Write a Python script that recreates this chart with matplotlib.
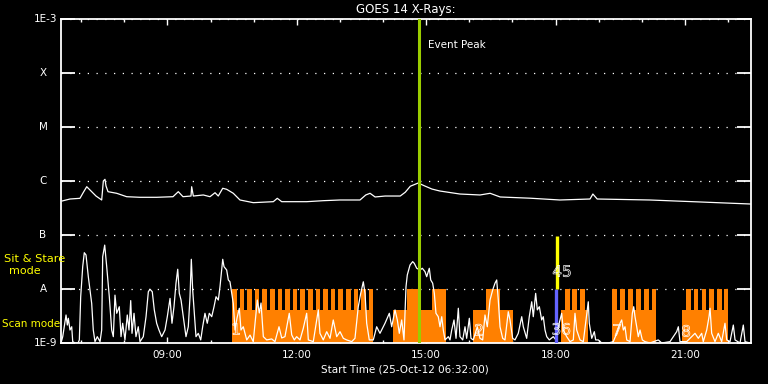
# GOES 14 X-ray light curves with the observing blocks drawn underneath, IDL-style black plot.
import numpy as np
import matplotlib.pyplot as plt
import matplotlib.patheffects as pe
from matplotlib.ticker import FixedLocator, NullLocator, FuncFormatter

START_H = 6 + 32 / 60   # 25-Oct-12 06:32:00
SPAN_H = 16

# 1-8 A channel: minutes after start, flux in 1e-6 W m^-2
hi_min = [1.4, 12.5, 26.4, 30.6, 35.8, 42.7, 48.7, 56.6, 58.9, 61.2,
          62.6, 65.4, 77.5, 91.4, 109.9, 133.1, 155.8, 163.2, 169.7, 180.9,
          181.8, 184.1, 198.0, 207.3, 214.3, 218.8, 225.0, 230.5, 239.7, 249.0,
          267.5, 295.4, 300.9, 307.1, 341.8, 364.9, 388.2, 416, 424, 430,
          437, 451, 472, 479, 486, 497, 506, 516, 527, 555,
          583, 597, 611, 653, 694, 736, 740, 746, 819, 889,
          959]
hi_uw = [0.426, 0.464, 0.478, 0.60, 0.784, 0.634, 0.527, 0.445, 1.0, 1.075,
         0.81, 0.634, 0.592, 0.512, 0.499, 0.499, 0.512, 0.634, 0.512, 0.527,
         0.784, 0.527, 0.551, 0.512, 0.607, 0.527, 0.733, 0.702, 0.592, 0.445,
         0.397, 0.414, 0.478, 0.414, 0.414, 0.432, 0.445, 0.445, 0.551, 0.592,
         0.506, 0.527, 0.527, 0.62, 0.80, 0.918, 0.81, 0.71, 0.653, 0.574,
         0.551, 0.592, 0.506, 0.48, 0.445, 0.464, 0.574, 0.464, 0.445, 0.409,
         0.375]

# 0.5-4 A channel: minutes after start, flux in 1e-9 W m^-2
lo_min = [0, 2.4, 7.0, 8.8, 10.2, 12.5, 14.9, 16.3, 19.5, 23.7,
          25.5, 27.4, 30.2, 32.4, 34.8, 38.0, 42.7, 44.9, 47.3, 50.5,
          54.3, 56.6, 58.0, 60.8, 63.6, 67.2, 70.5, 72.8, 75.1, 77.5,
          81.1, 83.5, 85.8, 89.0, 92.2, 94.6, 97.0, 98.8, 101.6, 104.3,
          107.5, 109.9, 114.5, 118.3, 121.5, 123.8, 127.0, 129.8, 133.1, 136.3,
          140.1, 144.7, 147.9, 151.7, 154.4, 157.2, 160.0, 162.4, 164.6, 167.0,
          170.2, 173.9, 177.1, 179.5, 181.3, 183.2, 185.5, 187.8, 191.0, 194.4,
          197.1, 200.3, 203.5, 206.3, 209.7, 212.9, 215.7, 218.9, 221.2, 225.0,
          226.8, 230.5, 232.8, 235.1, 239.7, 242.1, 244.9, 248.1, 250.4, 253.6,
          258.4, 263.0, 267.5, 273.1, 275.9, 278.3, 281.5, 286.2, 293.1, 297.7,
          303.3, 307.1, 311.6, 317.6, 321.0, 324.6, 327.9, 332.5, 337.1, 341.8,
          344.1, 351.0, 358.0, 360.3, 364.9, 369.7, 374.3, 378.8, 383.6, 388.2,
          392.8, 397.5, 404.5, 409.0, 413.6, 417.0, 420.6, 423.0, 425.3, 428.9,
          434.5, 439.2, 443.8, 450.8, 456.8, 460.1, 464.7, 467.9, 470.7, 474.0,
          477.2, 480.0, 481.8, 485.6, 489.3, 491.5, 494.9, 499.5, 502.7, 506.4,
          508.8, 512.4, 514.4, 517.1, 519.4, 521.7, 524.9, 527.3, 529.7, 531.9,
          534.3, 538.9, 541.2, 543.6, 546.8, 549.6, 552.8, 555.1, 558.9, 562.1,
          564.4, 568.1, 570.4, 573.6, 579.2, 582.9, 586.7, 589.9, 593.1, 596.9,
          600.6, 603.8, 606.2, 608.4, 610.8, 614.5, 617.7, 622.3, 624.7, 628.4,
          631.6, 636.2, 641.0, 643.2, 647.9, 651.5, 654.9, 657.1, 660.4, 662.7,
          665.5, 668.8, 671.0, 673.4, 675.8, 679.4, 684.9, 688.7, 691.9, 696.6,
          698.8, 703.6, 708.2, 712.8, 715.1, 717.5, 722.1, 726.7, 733.6, 735.0,
          738.4, 742.0, 743.9, 747.6, 752.3, 761.5, 768.4, 773.2, 777.8, 780.1,
          782.4, 784.7, 787.1, 791.7, 794.9, 796.8, 798.6, 801.0, 803.2, 805.6,
          808.8, 812.5, 819.5, 831.0, 835.8, 847.3, 856.6, 858.9, 861.2, 870.5,
          882.1, 886.7, 891.4, 893.6, 898.4, 901.6, 903.0, 905.3, 909.9, 914.5,
          919.2, 923.8, 926.2, 930.8, 935.4, 937.8, 944.7, 949.3, 951.7, 958.6]
lo_nw = [1.0, 1.31, 3.3, 2.15, 2.87, 1.74, 2.0, 1.06, 1.0, 1.0,
         1.14, 7.2, 25.9, 47, 42.7, 16.9, 5.4, 1.74, 1.06, 1.31,
         1.06, 1.74, 39.6, 65, 25.9, 7.2, 1.74, 1.31, 7.7, 3.55,
         4.7, 1.31, 2.32, 1.14, 3.3, 1.74, 6.1, 1.51, 3.55, 1.31,
         2.0, 1.06, 1.31, 3.07, 8.9, 9.9, 8.9, 4.1, 2.32, 1.74,
         1.31, 1.74, 3.07, 6.7, 2.32, 4.7, 12.8, 23.2, 8.3, 6.25,
         3.07, 1.31, 2.0, 7.2, 35.5, 9.6, 3.55, 1.31, 1.51, 1.14,
         2.0, 3.55, 2.32, 3.55, 3.07, 4.7, 7.2, 6.25, 11, 35.5,
         25.9, 22.5, 14.7, 13.6, 5.4, 1.74, 2.9, 4.4, 1.74, 2.0,
         1.14, 1.4, 1.06, 6.25, 3.6, 5.5, 1.31, 1.14, 1.19, 1.06,
         2.0, 1.24, 1.31, 3.55, 1.41, 1.14, 1.31, 1.14, 1.87, 3.55,
         1.14, 1.06, 4.1, 1.51, 1.14, 1.62, 1.22, 2.67, 1.31, 1.62,
         1.22, 1.14, 1.06, 1.22, 4.7, 8.3, 13.6, 8.3, 2.32, 1.14,
         1.14, 2.0, 1.51, 2.32, 3.55, 2.0, 4.1, 2.67, 1.51, 2.67,
         1.14, 11, 18.2, 27.8, 32.1, 29.9, 24.2, 22.5, 24.2, 21,
         16.9, 24.2, 14.7, 12.8, 8.3, 3.55, 3.07, 2.0, 3.07, 1.74,
         1.14, 1.31, 1.14, 1.74, 2.67, 1.22, 4.4, 1.31, 1.14, 2.0,
         1.22, 2.87, 1.22, 1.14, 2.0, 1.22, 1.14, 3.3, 2.0, 6.25,
         9.6, 12.8, 14.7, 6.25, 2.0, 1.22, 1.14, 3.8, 2.67, 1.22,
         1.14, 1.51, 3.07, 2.0, 1.22, 3.07, 5.8, 3.07, 8.3, 4.1,
         4.7, 2.67, 3.07, 1.74, 1.31, 1.14, 1.31, 1.14, 2.0, 3.55,
         1.74, 1.31, 1.06, 1.14, 3.55, 1.74, 1.14, 1.06, 5.8, 2.32,
         1.22, 1.62, 1.14, 1.14, 1.0, 1.0, 1.06, 1.51, 2.32, 2.67,
         1.74, 2.0, 1.14, 1.06, 3.55, 4.7, 3.07, 2.0, 1.31, 1.74,
         1.14, 1.06, 1.0, 1.14, 1.0, 1.06, 1.62, 2.0, 1.06, 1.06,
         1.51, 1.22, 1.51, 1.06, 1.74, 3.07, 4.4, 1.51, 1.06, 1.51,
         1.06, 2.32, 1.14, 1.06, 2.15, 1.14, 1.0, 2.15, 1.06, 1.0]

# observing blocks, minutes after start
low_start = [237.9, 461.9, 573.2, 695.7, 766.6, 864.0]
low_end = [434.1, 535.6, 628.9, 733.2, 827.8, 928.0]
tall_start = [237.9, 248.5, 259.1, 269.6, 280.2, 290.8, 301.3, 311.9, 322.5, 333.1,
              343.6, 354.2, 364.8, 375.3, 385.9, 396.5, 407.1, 417.6, 428.2,
              481.4, 516.2, 591.3,
              701.2, 711.4, 722.5,
              766.6, 778.2, 789.3, 800.4, 811.5, 821.8,
              869.6, 880.3, 891.4, 902.0, 913.1, 922.9]
tall_end = [244.4, 255.0, 265.6, 276.1, 286.7, 297.3, 307.8, 318.4, 329.0, 339.6,
            350.1, 360.7, 371.3, 381.8, 392.4, 403.0, 413.6, 424.1, 434.1,
            498.1, 535.6, 610.8,
            708.2, 717.9, 729.0,
            773.6, 784.7, 795.4, 806.9, 817.6, 827.4,
            876.1, 886.7, 897.8, 908.5, 919.2, 928.5]
LOW_LEVEL = 4.1e-9
TALL_LEVEL = 1e-8

event_peak_min = 498.1
blue_min, blue_lo, blue_hi = 688, 1e-9, 1e-8
yellow_min, yellow_lo, yellow_hi = 690, 1e-8, 0.95e-7

# block index labels: text, minute, flux
block_labels = [("1", 243.5, 1.74e-9), ("2", 581.6, 1.67e-9), ("36", 696.0, 1.74e-9),
                ("45", 697.0, 20.6e-9), ("7", 773.6, 1.67e-9), ("8", 869.6, 1.6e-9)]

level_vals = [1e-9, 1e-8, 1e-7, 1e-6, 1e-5, 1e-4, 1e-3]
level_text = ["1E-9", "A", "B", "C", "M", "X", "1E-3"]
hour_ticks = [9, 12, 15, 18, 21]


def to_h(minutes):
    return START_H + np.asarray(minutes, dtype=float) / 60


plt.rcParams["font.family"] = "DejaVu Sans"
W = "white"
ORANGE = "#ff8000"

fig = plt.figure(figsize=(7.68, 3.84), dpi=100, facecolor="black")
ax = fig.add_axes([61 / 768, 41 / 384, 690 / 768, 324 / 384], facecolor="black")
ax.set_yscale("log")
ax.set_ylim(1e-9, 1e-3)
ax.set_xlim(START_H, START_H + SPAN_H)

# observing blocks
ls, le = to_h(low_start), to_h(low_end)
ax.bar(ls, LOW_LEVEL - 1e-9, width=le - ls, bottom=1e-9, align="edge",
       color=ORANGE, linewidth=0, zorder=2)
ts, te = to_h(tall_start), to_h(tall_end)
ax.bar(ts, TALL_LEVEL - 1e-9, width=te - ts, bottom=1e-9, align="edge",
       color=ORANGE, linewidth=0, zorder=2)

# GOES curves
ax.plot(to_h(hi_min), np.array(hi_uw) * 1e-6, color=W, lw=0.9, zorder=3)
ax.plot(to_h(lo_min), np.array(lo_nw) * 1e-9, color=W, lw=0.9, zorder=3)

ax.axvline(to_h(event_peak_min), color="#9acd00", lw=2.2, zorder=4)
ax.vlines(to_h(blue_min), blue_lo, blue_hi, color="#6464ff", lw=2.4, zorder=4)
ax.vlines(to_h(yellow_min), yellow_lo, yellow_hi, color="#ffff00", lw=2.4, zorder=4)
ax.text(to_h(event_peak_min) + 0.2, 3.3e-4, "Event Peak", color=W, fontsize=7.5,
        va="center", ha="left")

# hollow, thin-stroked digits like the IDL vector font
for txt, m, f in block_labels:
    ax.text(to_h(m), f, txt, color="none", fontsize=11, ha="center", va="center",
            zorder=5, path_effects=[pe.Stroke(linewidth=0.5, foreground=W)])

# axes styling
for sp in ax.spines.values():
    sp.set_color(W)
    sp.set_linewidth(1.3)
ax.yaxis.set_major_locator(FixedLocator(level_vals))
ax.yaxis.set_minor_locator(NullLocator())
ax.tick_params(axis="y", which="major", direction="in", length=10, width=1.3,
               color=W, left=True, right=True, labelleft=False)
ax.grid(axis="y", color=W, linestyle=(0, (1, 6)), linewidth=0.9, zorder=1)
ax.set_axisbelow(True)

ax.xaxis.set_major_locator(FixedLocator(hour_ticks))
ax.xaxis.set_minor_locator(FixedLocator(range(7, 23)))
ax.xaxis.set_major_formatter(FuncFormatter(lambda h, _: f"{int(h):02d}:00"))
ax.tick_params(axis="x", which="major", direction="in", length=4.5, width=1,
               color=W, top=True, bottom=True, labelcolor=W, labelsize=7.5, pad=5)
ax.tick_params(axis="x", which="minor", direction="in", length=2.2, width=1,
               color=W, top=True, bottom=True)

ytr = ax.get_yaxis_transform()
for v, txt in zip(level_vals, level_text):
    if len(txt) == 1:
        ax.text(-18 / 690, v, txt, transform=ytr, color=W, fontsize=7.5,
                ha="center", va="center")
    else:
        ax.text(-4 / 690, v, txt, transform=ytr, color=W, fontsize=7.5,
                ha="right", va="center")

fig.text(406 / 768, 1 - 10 / 384, "GOES 14 X-Rays:", color=W, fontsize=8.5,
         ha="center", va="center")
fig.text(405 / 768, 1 - 369 / 384, "Start Time (25-Oct-12 06:32:00)", color=W,
         fontsize=7.5, ha="center", va="center")
fig.text(34.5 / 768, 1 - 259 / 384, "Sit & Stare", color="#ffff00", fontsize=8.2,
         ha="center", va="center")
fig.text(24.5 / 768, 1 - 271 / 384, "mode", color="#ffff00", fontsize=8,
         ha="center", va="center")
fig.text(2 / 768, 1 - 324 / 384, "Scan mode", color="#ffff00", fontsize=7.5,
         ha="left", va="center")

fig.savefig("out.png", dpi=100, facecolor="black")
